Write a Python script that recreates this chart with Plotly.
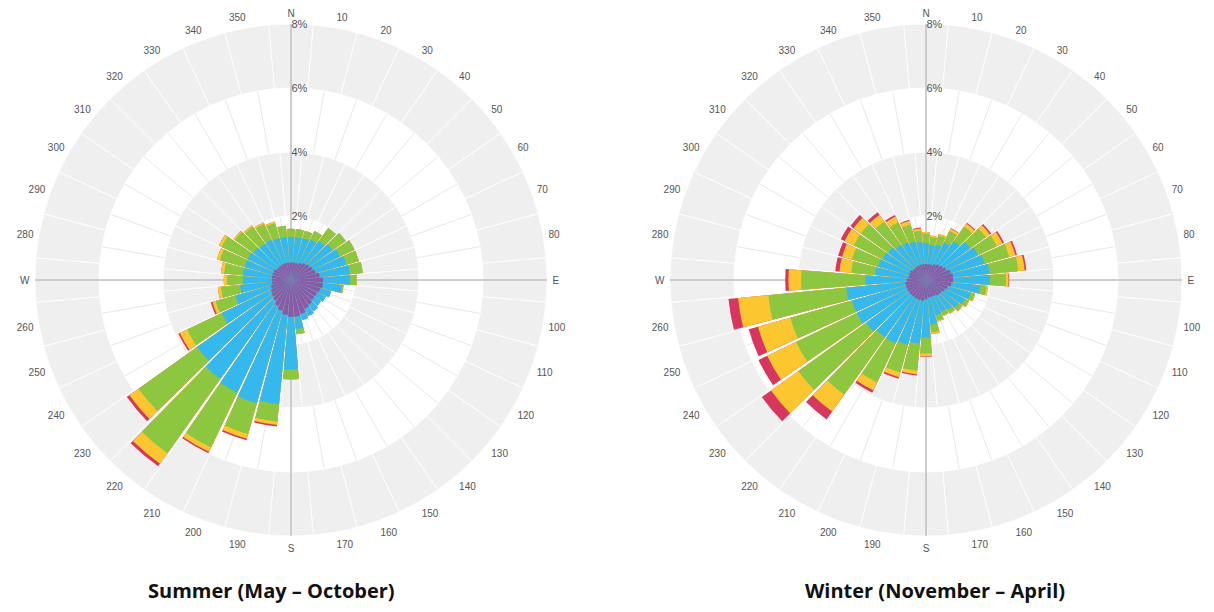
import plotly.graph_objects as go

directions = [0, 10, 20, 30, 40, 50, 60, 70, 80, 90, 100, 110, 120, 130, 140, 150, 160, 170,
              180, 190, 200, 210, 220, 230, 240, 250, 260, 270, 280, 290, 300, 310, 320, 330, 340, 350]
angle_labels = ["N", "10", "20", "30", "40", "50", "60", "70", "80", "E", "100", "110", "120", "130",
                "140", "150", "160", "170", "S", "190", "200", "210", "220", "230", "240", "250", "260",
                "W", "280", "290", "300", "310", "320", "330", "340", "350"]
radial_ticks = [2, 4, 6, 8]
radial_labels = ["2%", "4%", "6%", "8%"]
class_names = ["Class 1", "Class 2", "Class 3", "Class 4", "Class 5"]
class_colors = ["#8a5aa8", "#35b8ee", "#8dc63f", "#fcc630", "#d8365e"]

# cumulative frequency (%) up to each speed class, per direction
summer_c1 = [0.55, 0.55, 0.55, 0.6, 0.65, 0.7, 0.75, 0.8, 0.9, 1.0, 1.0, 0.95, 0.9, 0.9, 0.95, 1.0, 1.1, 1.15,
             1.15, 1.1, 1.0, 0.9, 0.8, 0.75, 0.7, 0.65, 0.6, 0.6, 0.6, 0.6, 0.6, 0.55, 0.55, 0.55, 0.55, 0.55]
summer_c2 = [1.35, 1.35, 1.35, 1.4, 1.5, 1.6, 1.7, 1.8, 1.85, 1.85, 1.6, 1.3, 1.2, 1.15, 1.2, 1.25, 1.3, 1.55,
             2.8, 3.9, 4.0, 3.9, 3.8, 3.6, 2.4, 1.8, 1.6, 1.5, 1.5, 1.5, 1.5, 1.45, 1.4, 1.4, 1.35, 1.35]
summer_c3 = [1.6, 1.6, 1.6, 1.7, 2.0, 2.1, 2.2, 2.2, 2.25, 2.05, 1.65, 1.3, 1.2, 1.15, 1.2, 1.25, 1.3, 1.7,
             3.1, 4.45, 5.0, 5.8, 6.65, 5.85, 3.6, 2.45, 2.2, 2.0, 2.1, 2.3, 2.4, 2.15, 2.05, 1.95, 1.85, 1.7]
summer_c4 = [1.6, 1.6, 1.6, 1.7, 2.0, 2.1, 2.2, 2.2, 2.25, 2.05, 1.65, 1.3, 1.2, 1.15, 1.2, 1.25, 1.3, 1.7,
             3.1, 4.55, 5.15, 5.95, 7.05, 6.2, 3.85, 2.55, 2.3, 2.1, 2.2, 2.4, 2.5, 2.2, 2.1, 2.0, 1.9, 1.7]
summer_c5 = [1.6, 1.6, 1.6, 1.7, 2.0, 2.1, 2.2, 2.2, 2.25, 2.05, 1.65, 1.3, 1.2, 1.15, 1.2, 1.25, 1.3, 1.7,
             3.1, 4.6, 5.2, 6.0, 7.15, 6.3, 3.9, 2.6, 2.3, 2.1, 2.2, 2.4, 2.5, 2.2, 2.1, 2.0, 1.9, 1.7]

winter_c1 = [0.5, 0.5, 0.5, 0.55, 0.6, 0.65, 0.7, 0.8, 0.85, 0.85, 0.8, 0.7, 0.65, 0.6, 0.6, 0.55, 0.55, 0.55,
             0.6, 0.65, 0.65, 0.65, 0.65, 0.65, 0.65, 0.65, 0.65, 0.6, 0.55, 0.55, 0.55, 0.5, 0.5, 0.5, 0.5, 0.5]
winter_c2 = [1.15, 1.1, 1.15, 1.3, 1.5, 1.7, 1.8, 1.9, 2.0, 2.0, 1.7, 1.45, 1.35, 1.25, 1.15, 1.1, 1.15, 1.4,
             1.8, 2.0, 2.1, 2.2, 2.2, 2.3, 2.4, 2.4, 2.5, 1.9, 1.6, 1.55, 1.5, 1.45, 1.35, 1.3, 1.25, 1.2]
winter_c3 = [1.45, 1.35, 1.45, 1.7, 2.05, 2.3, 2.45, 2.7, 2.9, 2.5, 1.9, 1.58, 1.48, 1.38, 1.28, 1.23, 1.32, 1.65,
             2.3, 2.85, 3.0, 3.55, 4.4, 4.9, 4.5, 4.4, 4.95, 3.9, 2.35, 2.4, 2.5, 2.5, 2.25, 2.0, 1.8, 1.55]
winter_c4 = [1.5, 1.4, 1.5, 1.78, 2.17, 2.45, 2.65, 2.9, 3.1, 2.58, 1.95, 1.6, 1.5, 1.4, 1.3, 1.25, 1.35, 1.7,
             2.38, 2.96, 3.15, 3.82, 5.05, 5.95, 5.5, 5.45, 5.9, 4.3, 2.72, 2.72, 2.82, 2.78, 2.5, 2.2, 1.92, 1.62]
winter_c5 = [1.5, 1.4, 1.5, 1.8, 2.2, 2.5, 2.7, 2.95, 3.15, 2.6, 1.95, 1.6, 1.5, 1.4, 1.3, 1.25, 1.35, 1.7,
             2.4, 3.0, 3.2, 3.9, 5.35, 6.3, 5.8, 5.75, 6.2, 4.4, 2.85, 2.85, 2.95, 2.9, 2.6, 2.25, 1.95, 1.65]

summer = [summer_c1, summer_c2, summer_c3, summer_c4, summer_c5]
winter = [winter_c1, winter_c2, winter_c3, winter_c4, winter_c5]

titles = ["Summer (May \u2013 October)", "Winter (November \u2013 April)"]

# page body adds an 8px offset; figure is sized to fit the window after it
OFF = 8
W, H = 1214 - OFF, 612 - OFF
centers = [(291 - OFF, 280 - OFF), (926 - OFF, 280 - OFF)]
R = 256
BAND = "#efefef"
fig = go.Figure()


def add_rose(idx, data, center):
    base_id = idx * 3
    names = ["polar" if base_id == 0 else f"polar{base_id + 1}", f"polar{base_id + 2}", f"polar{base_id + 3}"]
    cx, cy = center
    dom_x = [(cx - R) / W, (cx + R) / W]
    dom_y = [(H - cy - R) / H, (H - cy + R) / H]
    # layer A: background bands
    for b0 in [2, 6]:
        fig.add_trace(go.Barpolar(theta=directions, r=[2] * len(directions), base=[b0] * len(directions),
                                  width=10, marker=dict(color=BAND, line=dict(color="white", width=0.8)),
                                  subplot=names[0], showlegend=False, hoverinfo="skip"))
    # layer B: compass lines (grid) - invisible trace to create subplot
    fig.add_trace(go.Scatterpolar(theta=[0], r=[0], mode="markers", marker=dict(opacity=0),
                                  subplot=names[1], showlegend=False, hoverinfo="skip"))
    # layer C: data, outermost cumulative class first
    for k in range(4, -1, -1):
        fig.add_trace(go.Barpolar(theta=directions, r=data[k], width=9.0, name=class_names[k],
                                  marker=dict(color=class_colors[k], line=dict(width=0)),
                                  subplot=names[2], showlegend=False))
    common_ang = dict(rotation=90, direction="clockwise", showline=False)
    layA = dict(domain=dict(x=dom_x, y=dom_y), bgcolor="white", barmode="overlay",
                radialaxis=dict(range=[0, 8], showgrid=False, showticklabels=False, showline=False, ticks=""),
                angularaxis=dict(**common_ang, tickmode="array", tickvals=directions, ticktext=angle_labels,
                                 ticks="outside", ticklen=3, tickcolor="rgba(0,0,0,0)",
                                 showgrid=True, gridcolor="#e8e8e8", gridwidth=1,
                                 tickfont=dict(family="Liberation Sans, Arial", size=10, color="#555555")))
    layB = dict(domain=dict(x=dom_x, y=dom_y), bgcolor="rgba(0,0,0,0)",
                radialaxis=dict(range=[0, 8], showgrid=False, showticklabels=False, showline=False, ticks=""),
                angularaxis=dict(**common_ang, ticks="", tickmode="array", tickvals=[0, 90, 180, 270],
                                 showgrid=True, gridcolor="#a8a8a8", gridwidth=1, showticklabels=False))
    layC = dict(domain=dict(x=dom_x, y=dom_y), bgcolor="rgba(0,0,0,0)", barmode="overlay",
                radialaxis=dict(range=[0, 8], showgrid=False, showline=False, ticks="", angle=90,
                                tickmode="array", tickvals=radial_ticks, ticktext=radial_labels,
                                side="clockwise", tickangle=90,
                                tickfont=dict(family="Liberation Sans, Arial", size=11, color="#555555")),
                angularaxis=dict(**common_ang, ticks="", showgrid=False, showticklabels=False))
    fig.update_layout({names[0]: layA, names[1]: layB, names[2]: layC})


add_rose(0, summer, centers[0])
add_rose(1, winter, centers[1])

title_x = [271 - OFF, 935 - OFF]
title_y = 590 - OFF
for t, tx in zip(titles, title_x):
    fig.add_annotation(text=f"<b>{t}</b>", x=tx / W, y=(H - title_y) / H, xref="paper", yref="paper",
                       showarrow=False, xanchor="center", yanchor="middle",
                       font=dict(family="Open Sans", size=20, color="#111111"))

fig.update_layout(width=W, height=H, margin=dict(l=0, r=0, t=0, b=0), paper_bgcolor="white",
                  plot_bgcolor="white", showlegend=False)
fig.write_html("out.html")
